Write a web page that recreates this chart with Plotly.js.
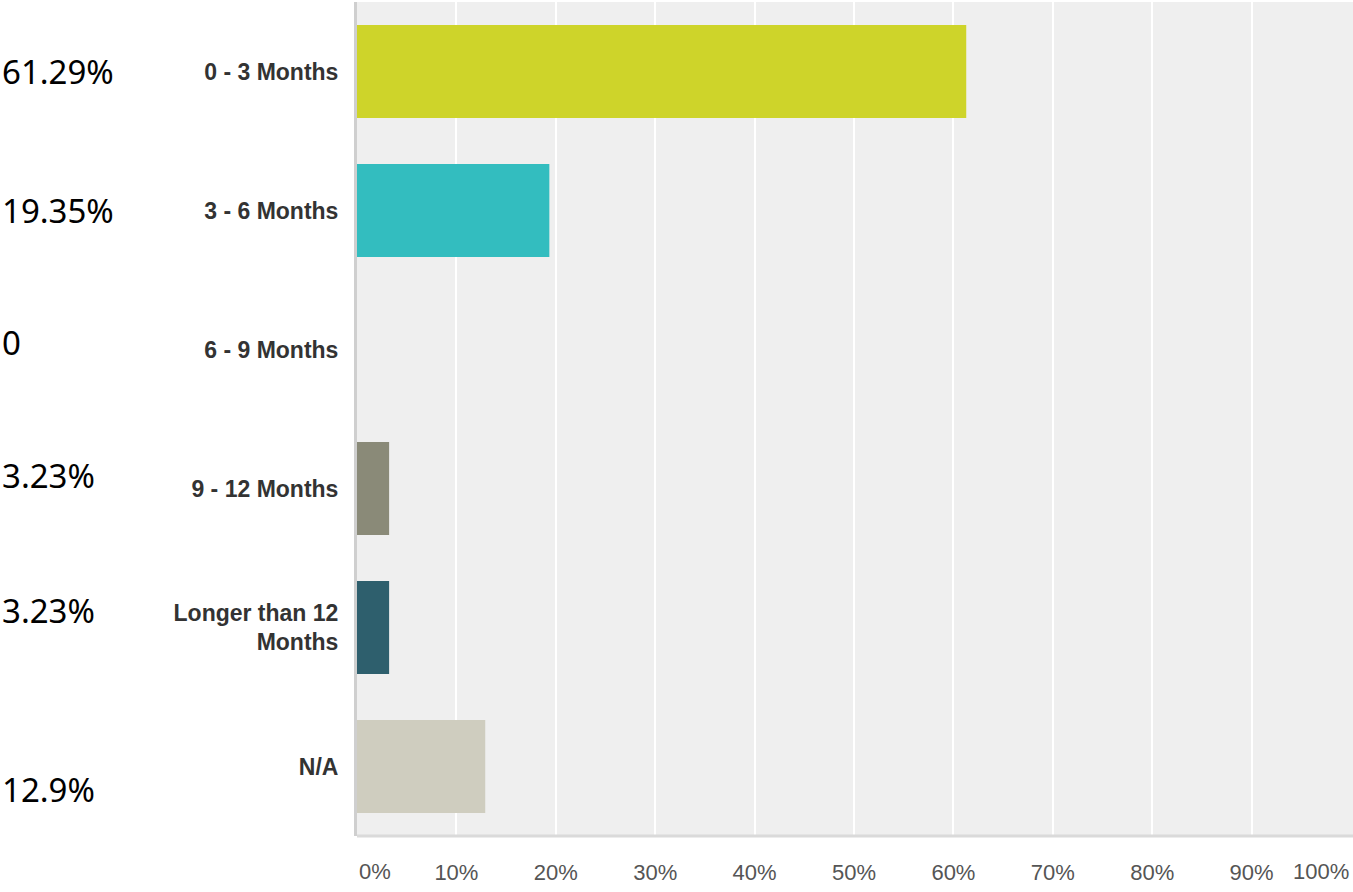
<!DOCTYPE html>
<html><head><meta charset="utf-8">
<script src="https://cdn.plot.ly/plotly-3.0.1.min.js"></script>
<style>html,body{margin:0;padding:0;background:#fff;}#chart{width:1353px;height:892px;}</style>
</head><body><div id="chart"></div>
<script>
const categories = ["0 - 3 Months", "3 - 6 Months", "6 - 9 Months", "9 - 12 Months", "Longer than 12<br>Months", "N/A"];
const values = [61.29, 19.35, 0, 3.23, 3.23, 12.9];
const valueLabels = ["61.29%", "19.35%", "0", "3.23%", "3.23%", "12.9%"];
const colors = ["#ced42a", "#33bdbf", "#8a8a78", "#8a8a78", "#2e5f6d", "#cfcdbf"];
const tickValues = [10, 20, 30, 40, 50, 60, 70, 80, 90];
const tickLabels = ["10%", "20%", "30%", "40%", "50%", "60%", "70%", "80%", "90%"];
const labelShift = [0, 0, 7, 13, 17, -23];

const trace = {
  type: "bar", orientation: "h",
  x: values, y: categories,
  marker: {color: colors},
  width: 0.67,
  hoverinfo: "none"
};

const tickFont = {family: "Liberation Sans, Arial", size: 22, color: "#555"};
const annotations = valueLabels.map((t, i) => ({
  xref: "paper", yref: "y", x: -0.3585, y: categories[i],
  xanchor: "left", yanchor: "middle", yshift: labelShift[i],
  text: t, showarrow: false,
  font: {family: "Noto Sans", size: 33, color: "#000"}
}));
annotations.push({xref: "x", yref: "paper", x: 0, y: 0, xanchor: "left", yanchor: "middle", yshift: -35,
  text: "0%", showarrow: false, font: tickFont});
annotations.push({xref: "x", yref: "paper", x: 100, y: 0, xanchor: "right", yanchor: "middle", yshift: -35,
  text: "100%", showarrow: false, font: tickFont});

const layout = {
  width: 1353, height: 892,
  margin: {l: 357, r: 0, t: 2, b: 56},
  paper_bgcolor: "#fff", plot_bgcolor: "#efefef",
  showlegend: false,
  xaxis: {
    range: [0, 100.2], tickvals: tickValues, ticktext: tickLabels,
    showgrid: true, gridcolor: "#ffffff", gridwidth: 2,
    zeroline: false, showline: false, ticks: "",
    ticklabelstandoff: 21,
    tickfont: tickFont
  },
  yaxis: {
    autorange: "reversed", type: "category",
    showgrid: false, zeroline: false, ticks: "",
    showline: true, linecolor: "#cfcfcf", linewidth: 3,
    ticklabelstandoff: 11,
    tickfont: {family: "Liberation Sans, Arial", size: 23, color: "#333", weight: "bold"}
  },
  shapes: [{type: "line", xref: "paper", yref: "paper", x0: 0, x1: 1, y0: 0, y1: 0,
    line: {color: "#dadada", width: 3}}],
  annotations: annotations,
  bargap: 0.33
};
Plotly.newPlot("chart", [trace], layout, {displayModeBar: false, staticPlot: true});
</script></body></html>
